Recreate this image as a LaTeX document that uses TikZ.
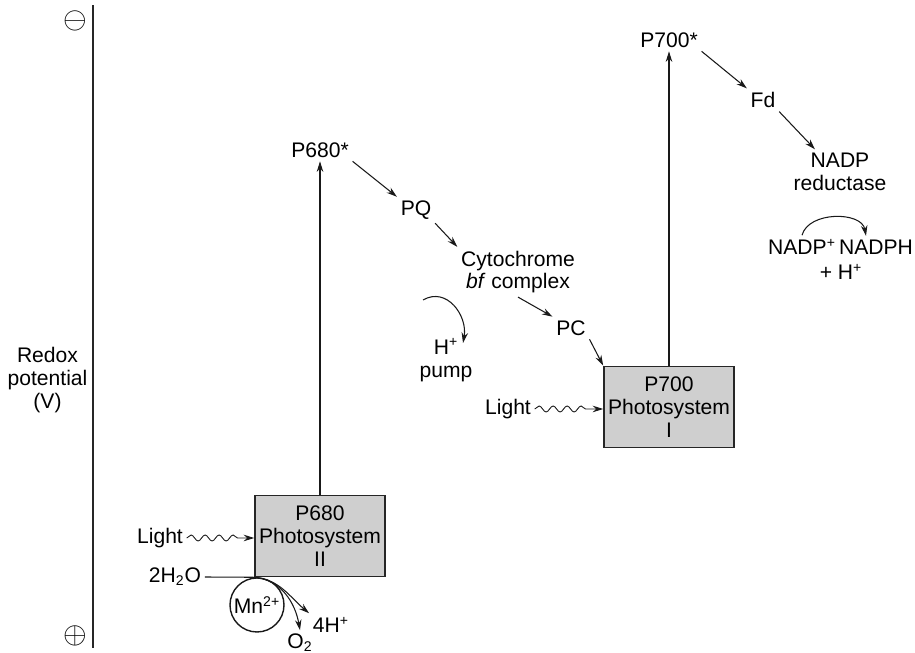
\documentclass[tikz,border=0pt]{standalone}
\usepackage{fontspec}
\setmainfont{Liberation Sans}
\usetikzlibrary{arrows.meta, decorations.pathmorphing}
\tikzset{
  lbl/.style={font=\fontsize{12}{13}\selectfont, align=center, inner sep=2pt},
  psbox/.style={lbl, draw=black!85, line width=0.9pt, fill=black!19,
                minimum width=2.6cm, minimum height=1.62cm},
  elec/.style={-{Stealth[length=2.1mm, width=1.3mm]}, line width=0.6pt, draw=black!90},
  light/.style={-{Stealth[length=2.1mm, width=1.3mm]}, line width=0.5pt, draw=black!90,
                decorate, decoration={snake, amplitude=0.6mm, segment length=2.8mm,
                post length=2.2mm}},
  sign/.style={font=\fontsize{17}{17}\selectfont, inner sep=0pt},
}
\begin{document}
\begin{tikzpicture}
  \useasboundingbox (0,0) rectangle (18.3,13.06);
  % redox axis
  \draw[line width=0.6pt, black!85] (1.86,0.1) -- (1.86,12.96);
  \node[sign] (minus) at (1.5,12.64) {$\ominus$};
  \node[sign] (plus) at (1.5,0.34) {$\oplus$};
  \node[lbl] (redox) at (0.95,5.46) {Redox\\potential\\(V)};
  % photosystems and carriers
  \node[psbox] (ps2) at (6.4,2.34) {P680\\Photosystem\\II};
  \node[lbl] (p680s) at (6.4,10.06) {P680*};
  \node[lbl] (pq) at (8.32,8.86) {PQ};
  \node[lbl] (cyt) at (10.36,7.62) {Cytochrome\\\textit{bf} complex};
  \node[lbl] (pc) at (11.42,6.5) {PC};
  \node[psbox] (ps1) at (13.38,4.92) {P700\\Photosystem\\I};
  \node[lbl] (p700s) at (13.38,12.26) {P700*};
  \node[lbl] (fd) at (15.26,11.06) {Fd};
  \node[lbl] (nadpr) at (16.8,9.62) {NADP\\reductase};
  \node[lbl] (nadpp) at (16.04,8.12) {NADP\textsuperscript{+}};
  \node[lbl] (nadph) at (17.52,8.12) {NADPH};
  \node[lbl] (hplus) at (16.82,7.62) {+ H\textsuperscript{+}};
  \node[lbl] (pump) at (8.92,5.86) {H\textsuperscript{+}\\pump};
  \node[lbl] (light2) at (3.2,2.3) {Light};
  \node[lbl] (light1) at (10.16,4.88) {Light};
  \node[lbl] (water) at (3.5,1.52) {2H\textsubscript{2}O};
  \node[lbl, draw=black!90, circle, line width=0.8pt, minimum size=1.08cm, inner sep=0pt]
    (mn) at (5.14,0.96) {Mn\textsuperscript{2+}};
  \node[lbl] (oxy) at (6.0,0.2) {O\textsubscript{2}};
  \node[lbl] (fourh) at (6.62,0.56) {4H\textsuperscript{+}};
  \coordinate (pumpin) at (8.46,7.06);
  \coordinate (pumpout) at (9.26,6.2);
  % electron flow
  \draw[elec] (ps2) -- (p680s);
  \draw[elec] (p680s.south east) -- (pq.north west);
  \draw[elec] (pq.south east) -- (cyt.north west);
  \draw[elec] (cyt.south) -- (pc.north west);
  \draw[elec] (pc.south east) -- (ps1.north west);
  \draw[elec] (ps1) -- (p700s);
  \draw[elec] (p700s.south east) -- (fd.north west);
  \draw[elec] (fd.south east) -- ([xshift=-0.5cm]nadpr.north);
  \draw[elec] (nadpp.north) to[out=75, in=100] ([xshift=-0.2cm]nadph.north);
  \draw[elec] (pumpin) to[out=30, in=80, looseness=1.2] (pumpout);
  % light and water splitting
  \draw[light] (light2.east) -- (light2 -| ps2.west);
  \draw[light] (light1.east) -- (light1 -| ps1.west);
  \draw[line width=0.6pt, black!90] (water.east) -- (ps2.south west);
  \draw[elec] (ps2.south west) to[out=-5, in=100] (oxy.north);
  \draw[elec] (ps2.south west) to[out=-5, in=140] (fourh.north west);
\end{tikzpicture}
\end{document}
